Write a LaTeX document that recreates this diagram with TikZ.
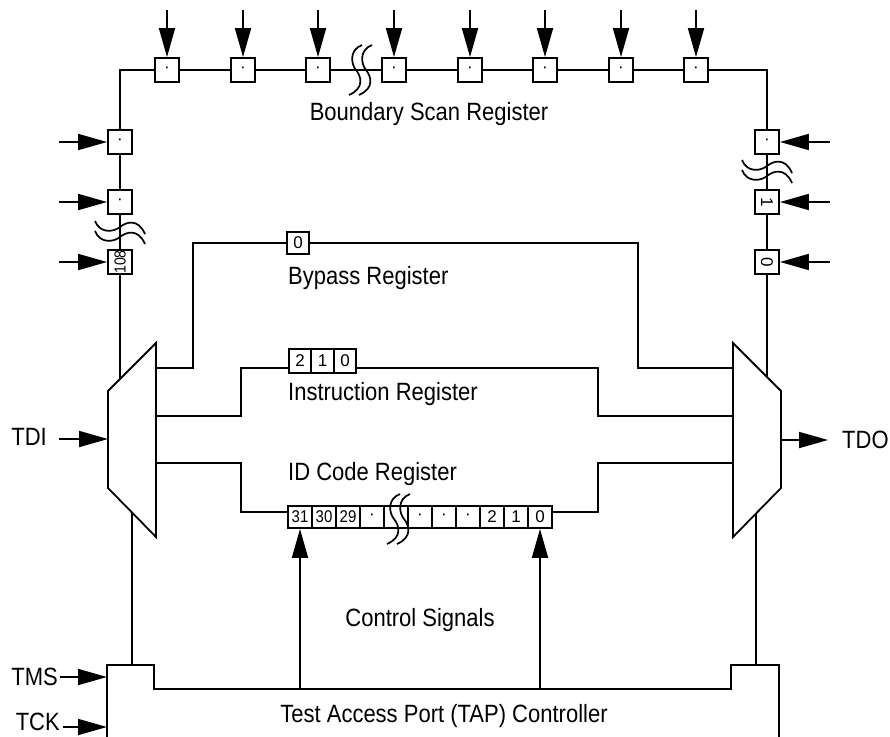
\documentclass[tikz,border=0pt]{standalone}
\usepackage{fontspec}
\setmainfont{Liberation Sans}
\usetikzlibrary{arrows.meta}
\newcommand{\nar}[1]{\scalebox{0.88}[1]{#1}}

\begin{document}
\begin{tikzpicture}[x=1pt,y=-1pt]

\tikzset{cell/.style = {shape=rectangle,draw,fill=white,line width=1.8pt,minimum width=24pt,minimum height=24pt,inner sep=0pt,font=\fontsize{17}{17}\selectfont}}
\tikzset{wire/.style = {line width=1.8pt}}
\tikzset{sig/.style = {line width=1.8pt,-{Triangle[length=29pt,width=16pt]}}}
\tikzset{txt/.style = {inner sep=0pt,font=\fontsize{25}{28}\selectfont}}
\tikzset{brk/.pic = {
  \draw[line width=1.7pt] (2,-25) .. controls (-11,-20) and (-9,-6) .. (-4,0) .. controls (1,6) and (5,18) .. (-11,25);
  \draw[line width=1.7pt] (12,-25) .. controls (-1,-20) and (1,-6) .. (6,0) .. controls (11,6) and (15,18) .. (-1,25);}}

\useasboundingbox (0,0) rectangle (890,736);

% boundary scan cells
\node[cell] (b1) at (167,70) {·};
\node[cell] (b2) at (243,70) {·};
\node[cell] (b3) at (318,70) {·};
\node[cell] (b4) at (394,70) {·};
\node[cell] (b5) at (470,70) {·};
\node[cell] (b6) at (545,70) {·};
\node[cell] (b7) at (621,70) {·};
\node[cell] (b8) at (696,70) {·};
\node[cell] (l1) at (120,142) {·};
\node[cell] (l2) at (120,202) {·};
\node[cell,font=\fontsize{16}{16}\selectfont] (l3) at (120,262) {\rotatebox{90}{\nar{108}}};
\node[cell] (r1) at (767,142) {·};
\node[cell] (r2) at (767,202) {\rotatebox{-90}{1}};
\node[cell] (r3) at (767,262) {\rotatebox{-90}{0}};

% bypass and instruction cells
\node[cell,minimum width=22pt,minimum height=22pt] (by0) at (298,243) {0};
\node[cell,minimum width=22.5pt] (ir2) at (300,361) {2};
\node[cell,minimum width=22.5pt] (ir1) at (322.5,361) {1};
\node[cell,minimum width=22.5pt] (ir0) at (345,361) {0};

% id code cells
\node[cell,minimum height=22pt] (id1) at (300,517) {\nar{31}};
\node[cell,minimum height=22pt] (id2) at (324,517) {\nar{30}};
\node[cell,minimum height=22pt] (id3) at (348,517) {\nar{29}};
\node[cell,minimum height=22pt] (id4) at (372,517) {·};
\node[cell,minimum height=22pt] (id5) at (396,517) {};
\node[cell,minimum height=22pt] (id6) at (420,517) {·};
\node[cell,minimum height=22pt] (id7) at (444,517) {·};
\node[cell,minimum height=22pt] (id8) at (468,517) {·};
\node[cell,minimum height=22pt] (id9) at (492,517) {2};
\node[cell,minimum height=22pt] (id10) at (516,517) {1};
\node[cell,minimum height=22pt] (id11) at (540,517) {0};

% mux ports and free ends
\coordinate (lin) at (120,379);
\coordinate (rin) at (767,378);
\coordinate (lo1) at (156,368);
\coordinate (lo2) at (156,416);
\coordinate (lo3) at (156,463);
\coordinate (ri1) at (733,368);
\coordinate (ri2) at (733,416);
\coordinate (ri3) at (733,463);
\coordinate (irl) at (289,368);
\coordinate (irr) at (357,368);
\coordinate (idl) at (288,512);
\coordinate (idr) at (552,512);
\coordinate (lmid) at (108,439);
\coordinate (rmid) at (781,440);
\coordinate (lbot) at (132,512);
\coordinate (rbot) at (756,513);
\coordinate (tapl) at (132,665);
\coordinate (tapr) at (756,665);

% scan chain
\draw[wire] (l1) |- (b1);
\draw[wire] (b1) -- (b2) -- (b3) -- (b4) -- (b5) -- (b6) -- (b7) -- (b8);
\draw[wire] (b8) -| (r1);
\draw[wire] (l1) -- (l2) -- (l3) -- (lin);
\draw[wire] (r1) -- (r2) -- (r3) -- (rin);
\pic at (360,70) {brk};
\pic[rotate=90] at (120,233) {brk};
\pic[rotate=90] at (767,172) {brk};
\pic at (398,519) {brk};

% register paths
\draw[wire] (lo1) -- ++(37,0) |- (by0);
\draw[wire] (ri1) -- ++(-95,0) |- (by0);
\draw[wire] (lo2) -- ++(85,0) |- (irl);
\draw[wire] (ri2) -- ++(-135,0) |- (irr);
\draw[wire] (lo3) -- ++(85,0) |- (idl);
\draw[wire] (ri3) -- ++(-135,0) |- (idr);
\draw[wire] (lbot) -- (tapl);
\draw[wire] (rbot) -- (tapr);

% muxes and tap controller
\draw[wire,fill=white] (108,391) -- (156,343) -- (156,537) -- (108,488) -- cycle;
\draw[wire,fill=white] (733,343) -- (781,391) -- (781,488) -- (733,537) -- cycle;
\draw[wire] (107,745) |- (154,665) |- (731,689) |- (779,665) -- (779,745);

% input arrows
\coordinate (tb1) at (167,10);
\coordinate (tb2) at (243,10);
\coordinate (tb3) at (318,10);
\coordinate (tb4) at (394,10);
\coordinate (tb5) at (470,10);
\coordinate (tb6) at (545,10);
\coordinate (tb7) at (621,10);
\coordinate (tb8) at (696,10);
\draw[sig] (tb1) -- (b1);
\draw[sig] (tb2) -- (b2);
\draw[sig] (tb3) -- (b3);
\draw[sig] (tb4) -- (b4);
\draw[sig] (tb5) -- (b5);
\draw[sig] (tb6) -- (b6);
\draw[sig] (tb7) -- (b7);
\draw[sig] (tb8) -- (b8);
\coordinate (tl1) at (59,142);
\coordinate (tl2) at (59,202);
\coordinate (tl3) at (59,262);
\coordinate (tr1) at (830,142);
\coordinate (tr2) at (830,202);
\coordinate (tr3) at (830,262);
\draw[sig] (tl1) -- (l1);
\draw[sig] (tl2) -- (l2);
\draw[sig] (tl3) -- (l3);
\draw[sig] (tr1) -- (r1);
\draw[sig] (tr2) -- (r2);
\draw[sig] (tr3) -- (r3);
\coordinate (cs1) at (300,689);
\coordinate (cs2) at (540,689);
\draw[sig] (cs1) -- (id1);
\draw[sig] (cs2) -- (id11);

% pins
\node[txt,anchor=east] (tdi) at (47,437) {\nar{TDI}};
\node[txt,anchor=west] (tdo) at (842,440) {\nar{TDO}};
\node[txt,anchor=east] (tms) at (58,677) {\nar{TMS}};
\node[txt,anchor=east] (tck) at (60,722) {\nar{TCK}};
\coordinate (tdia) at (59,439);
\coordinate (tdoa) at (828,440);
\coordinate (tmsa) at (60,677);
\coordinate (tcka) at (63,727);
\coordinate (tmsb) at (107,677);
\coordinate (tckb) at (107,727);
\draw[sig] (tdia) -- (lmid);
\draw[sig] (rmid) -- (tdoa);
\draw[sig] (tmsa) -- (tmsb);
\draw[sig] (tcka) -- (tckb);

% labels
\node[txt] (bsr) at (429,114) {\nar{Boundary Scan Register}};
\node[txt,anchor=west] (bpr) at (288,278) {\nar{Bypass Register}};
\node[txt,anchor=west] (inr) at (288,394) {\nar{Instruction Register}};
\node[txt,anchor=west] (idc) at (288,474) {\nar{ID Code Register}};
\node[txt] (ctl) at (420,620) {\nar{Control Signals}};
\node[txt] (tap) at (444,716) {\nar{Test Access Port (TAP) Controller}};

\end{tikzpicture}
\end{document}
